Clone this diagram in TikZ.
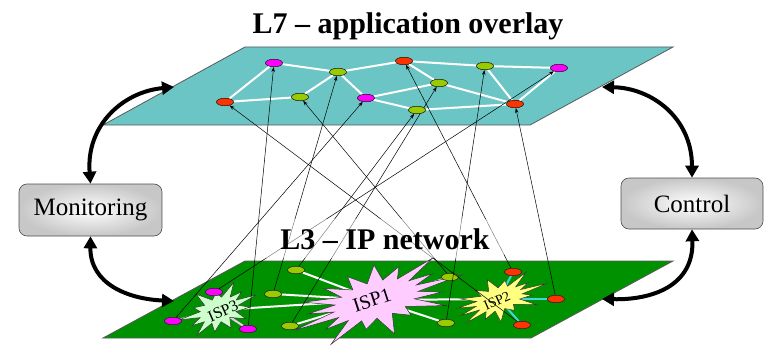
\documentclass[tikz,border=0pt]{standalone}
\usepackage{fontspec}
\setmainfont{Liberation Serif}
\usetikzlibrary{arrows.meta,shapes.geometric}

\definecolor{overlayteal}{HTML}{6CC5C5}
\definecolor{ipgreen}{HTML}{009100}
\definecolor{nodemag}{HTML}{FF00FF}
\definecolor{nodered}{HTML}{FF3300}
\definecolor{nodeolive}{HTML}{99CC00}
\definecolor{ispone}{HTML}{FFCCFF}
\definecolor{isptwo}{HTML}{FFFF80}
\definecolor{ispthree}{HTML}{CCFFCC}
\definecolor{linkpink}{HTML}{F4C8F4}
\definecolor{linkcyan}{HTML}{40D8D8}

\tikzset{
  hostnode/.style={ellipse, draw=black!85, line width=0.5pt, minimum width=17pt,
                   minimum height=7.5pt, inner sep=0pt},
  magnode/.style={hostnode, fill=nodemag},
  rednode/.style={hostnode, fill=nodered},
  olivenode/.style={hostnode, fill=nodeolive},
  planeface/.style={draw=black!65, line width=0.8pt},
  overlaylink/.style={white, line width=2pt},
  iplink/.style={white, line width=2pt},
  maplink/.style={-{Stealth[length=5pt,width=3.5pt]}, line width=0.5pt, black},
  ctrlarrow/.style={{Triangle[length=12pt,width=13pt]}-{Triangle[length=12pt,width=13pt]},
                    line width=4pt},
  panel/.style={draw=black!70, line width=0.6pt, rounded corners=8pt,
                minimum width=143pt, minimum height=52pt, shading=radial,
                inner color=white, outer color=black!22,
                font=\fontsize{25}{30}\selectfont},
  burstline/.style={draw=black!80, line width=0.5pt, line join=miter},
  layertitle/.style={font=\bfseries\fontsize{30}{36}\selectfont, anchor=base},
}

% spiky domain outline: #1 centre, #2 turn, #3/#4 half axes, #5 corners, #6 phase, #7 fill
\newcommand{\ispoutline}[7]{%
  \begin{scope}[shift={(#1)}, rotate=#2]
    \filldraw[burstline, fill=#7]
      ({(1.4+0.25*sin(#6))*#3}, 0)
      \foreach \k in {1,...,#5} {
        -- ({(mod(\k,2)==0 ? 1.4+0.25*sin(\k*97+#6) : 0.78)*#3*cos(\k*360/#5)},
            {(mod(\k,2)==0 ? 1.4+0.25*sin(\k*97+#6) : 0.78)*#4*sin(\k*360/#5)})
      } -- cycle;
  \end{scope}}

\begin{document}
\begin{tikzpicture}[x=1pt,y=-1pt]
\useasboundingbox (0,0) rectangle (770,350);

% the two layers
\draw[planeface, fill=overlayteal] (103,125) -- (530,125) -- (673,47) -- (245,47) -- cycle;
\draw[planeface, fill=ipgreen] (103,338) -- (531,338) -- (673,261) -- (245,261) -- cycle;

% IP-layer hosts
\node[olivenode] (b1)  at (296,270) {};
\node[rednode]   (b2)  at (513,272) {};
\node[olivenode] (b3)  at (450,277) {};
\node[magnode]   (b4)  at (214,292) {};
\node[olivenode] (b5)  at (273,294) {};
\node[rednode]   (b6)  at (556,299) {};
\node[magnode]   (b7)  at (173,321) {};
\node[magnode]   (b8)  at (248,329) {};
\node[olivenode] (b9)  at (290,326) {};
\node[olivenode] (b10) at (446,323) {};
\node[rednode]   (b11) at (522,325) {};

% ISP centres, used by the access links
\coordinate (c1) at (376,300);
\coordinate (c2) at (499,299);
\coordinate (c3) at (219,310);

% access and peering links
\draw[iplink] (b1) -- (c1);
\draw[iplink] (b5) -- (c1);
\draw[iplink] (b9) -- (c1);
\draw[iplink] (b3) -- (c1);
\draw[iplink] (b10) -- (c1);
\draw[iplink] (c3) -- (c1);
\draw[iplink] (c1) -- (c2);
\draw[linkpink, line width=2pt] (b4) -- (c3);
\draw[linkpink, line width=2pt] (b7) -- (c3);
\draw[linkpink, line width=2pt] (b8) -- (c3);
\draw[linkcyan, line width=2pt] (b2) -- (c2);
\draw[linkcyan, line width=2pt] (b6) -- (c2);
\draw[linkcyan, line width=2pt] (b11) -- (c2);

% ISP domains
\ispoutline{c1}{16}{56}{23}{34}{20}{ispone}
\ispoutline{c2}{18}{31}{14}{30}{70}{isptwo}
\ispoutline{c3}{22}{26}{15}{26}{140}{ispthree}
\node[rotate=18, font=\fontsize{20}{24}\selectfont] (isp1) at (372,300) {ISP1};
\node[rotate=24, font=\fontsize{14}{16}\selectfont] (isp2) at (497,301) {ISP2};
\node[rotate=24, font=\fontsize{16}{18}\selectfont] (isp3) at (223,311) {ISP3};

% redraw hosts above the domains
\foreach \s/\p in {olivenode/{296,270}, rednode/{513,272}, olivenode/{450,277},
    magnode/{214,292}, olivenode/{273,294}, rednode/{556,299},
    magnode/{173,321}, magnode/{248,329}, olivenode/{290,326},
    olivenode/{446,323}, rednode/{522,325}}
  \node[\s] at (\p) {};

% overlay peers
\node[magnode]   (m1) at (274,63) {};
\node[olivenode] (g1) at (338,72) {};
\node[rednode]   (r1) at (404,61) {};
\node[olivenode] (g2) at (485,66) {};
\node[magnode]   (m2) at (559,68) {};
\node[rednode]   (r2) at (225,102) {};
\node[olivenode] (g3) at (300,97) {};
\node[magnode]   (m3) at (366,98) {};
\node[olivenode] (g4) at (439,83) {};
\node[olivenode] (g5) at (417,110) {};
\node[rednode]   (r3) at (515,104) {};

% overlay links
\foreach \a/\b in {m1/r2, m1/g1, r2/g3, g3/g1, g1/r1, g1/m3, r1/g2, r1/g4, g2/m2,
                   g2/r3, m2/r3, m3/g4, m3/g5, g4/r3, g5/r3}
  \draw[overlaylink] (\a) -- (\b);

% mapping of overlay peers onto IP hosts
\foreach \lo/\hi in {b8/m1, b4/m2, b7/m3, b2/r1, b11/r2, b6/r3, b5/g1, b10/g2,
                     b3/g3, b9/g4, b1/g5}
  \draw[maplink] (\lo) -- (\hi);

% peers above their links
\foreach \s/\p in {magnode/{274,63}, olivenode/{338,72}, rednode/{404,61},
    olivenode/{485,66}, magnode/{559,68}, rednode/{225,102},
    olivenode/{300,97}, magnode/{366,98}, olivenode/{439,83},
    olivenode/{417,110}, rednode/{515,104}}
  \node[\s] at (\p) {};

% layer titles
\node[layertitle] (l7) at (408,34) {L7 \textendash{} application overlay};
\node[layertitle, fill=white, fill opacity=0.5, text opacity=1,
      inner xsep=14pt, inner ysep=9pt] (l3) at (385,249) {L3 \textendash{} IP network};

% monitoring and control
\node[panel] (mon) at (90.5,210) {Monitoring};
\node[panel, minimum width=142pt, minimum height=51pt] (ctl) at (692,203.5) {Control};

\coordinate (topleft)  at (174,87);
\coordinate (botleft)  at (174,301);
\coordinate (topright) at (602,87);
\coordinate (botright) at (602,299);

\draw[ctrlarrow] (mon.north) .. controls (86,126) and (122,92) .. (topleft);
\draw[ctrlarrow] (mon.south) .. controls (90,284) and (128,299) .. (botleft);
\draw[ctrlarrow] (ctl.north) .. controls (692,118) and (652,88) .. (topright);
\draw[ctrlarrow] (ctl.south) .. controls (694,286) and (652,300) .. (botright);
\end{tikzpicture}
\end{document}
